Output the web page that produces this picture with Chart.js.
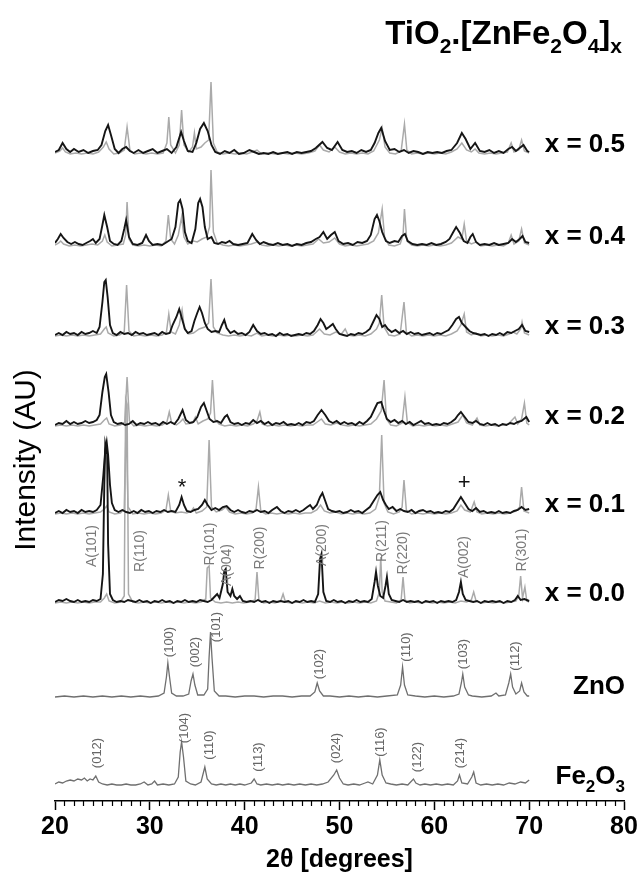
<!DOCTYPE html>
<html>
<head>
<meta charset="utf-8">
<script src="https://cdn.jsdelivr.net/npm/chart.js@4.4.1/dist/chart.umd.min.js"></script>
<style>
  html, body { margin: 0; padding: 0; background: #fff; }
</style>
</head>
<body>
<canvas id="xrdChart" width="641" height="875"></canvas>
<script>
// sample names (top to bottom) and vertical offsets of each pattern (AU)
const sampleNames = ['x = 0.5', 'x = 0.4', 'x = 0.3', 'x = 0.2', 'x = 0.1', 'x = 0.0'];
const offsets = [646, 554, 464, 374, 286, 197, 104, 14];

// TiO2.[ZnFe2O4]x patterns, [2theta, intensity]
const b05 = [[20,3],[20.4,5],[20.8,12],[21.2,6],[21.6,3],[22,6],[22.5,3],[23,5],[23.5,2],[24,4],[24.5,5],[24.9,10],[25.3,24],[25.6,30],[25.9,20],[26.3,6],[26.7,2],[27.1,6],[27.5,8],[27.9,4],[28.3,2],[28.8,5],[29.3,2],[29.8,4],[30.3,6],[30.8,2],[31.3,4],[31.8,6],[32.3,2],[32.8,8],[33.3,23],[33.6,14],[34,4],[34.5,3],[34.9,12],[35.3,26],[35.7,32],[36.1,24],[36.5,10],[36.9,3],[37.4,1],[37.9,4],[38.4,2],[38.9,5],[39.4,1],[39.9,2],[40.5,5],[41,3],[41.5,1],[42,2],[42.5,1],[43,3],[43.5,1],[44,2],[44.5,3],[45,1],[45.5,3],[46,2],[46.5,3],[47,4],[47.5,7],[48.2,13],[48.7,7],[49.2,5],[49.8,13],[50.3,5],[50.8,3],[51.3,4],[51.8,2],[52.3,5],[52.8,3],[53.3,5],[53.7,12],[54.1,22],[54.4,27],[54.8,14],[55.3,5],[55.8,6],[56.3,3],[56.8,5],[57.3,2],[57.8,4],[58.3,3],[58.8,1],[59.3,3],[59.8,2],[60.3,3],[60.8,2],[61.3,4],[61.8,5],[62.4,12],[62.9,22],[63.3,16],[63.8,6],[64.3,12],[64.8,4],[65.3,3],[65.8,5],[66.3,2],[66.8,4],[67.3,2],[67.8,6],[68.2,8],[68.6,4],[69,7],[69.4,10],[69.8,4],[70,3]];
const g05 = [[20,2],[20.5,4],[20.8,7],[21.1,3],[21.6,1],[22.2,2],[22.8,1],[23.4,2],[24,1],[24.6,3],[25.1,8],[25.4,13],[25.7,6],[26.2,1],[26.8,2],[27.3,5],[27.6,28],[27.9,5],[28.4,1],[29,2],[29.6,1],[30.2,2],[30.8,1],[31.4,2],[31.8,12],[32,38],[32.2,10],[32.7,2],[33.1,10],[33.35,45],[33.6,10],[34.1,3],[34.5,8],[34.7,22],[34.9,6],[35.4,8],[35.8,12],[36.2,15],[36.45,73],[36.7,12],[37.1,3],[37.7,1],[38.3,2],[39,1],[39.6,2],[40.2,1],[40.8,3],[41.3,5],[41.8,1],[42.5,2],[43.2,1],[43.9,2],[44.6,1],[45.3,2],[46,1],[46.7,2],[47.4,4],[47.9,10],[48.3,5],[48.9,3],[49.5,8],[50,3],[50.6,1],[51.2,2],[51.8,1],[52.4,2],[53,1],[53.6,4],[54.2,15],[54.5,27],[54.8,8],[55.3,2],[55.9,1],[56.5,4],[56.85,31],[57.1,5],[57.6,1],[58.2,2],[58.8,1],[59.4,2],[60,1],[60.6,2],[61.2,1],[61.8,3],[62.4,6],[62.9,12],[63.4,5],[63.9,3],[64.3,6],[64.7,2],[65.3,1],[65.9,2],[66.5,1],[67.1,2],[67.7,3],[68.1,12],[68.4,3],[68.9,5],[69.2,15],[69.5,4],[70,2]];
const b04 = [[20,4],[20.3,8],[20.6,13],[20.9,9],[21.3,5],[21.7,3],[22.1,5],[22.5,3],[22.9,2],[23.3,4],[23.7,6],[24,8],[24.3,4],[24.7,8],[25,22],[25.2,32],[25.5,20],[25.8,6],[26.2,3],[26.6,2],[27,6],[27.3,18],[27.5,27],[27.8,10],[28.2,3],[28.7,2],[29.2,4],[29.6,12],[29.9,6],[30.3,2],[30.8,3],[31.3,2],[31.8,5],[32.3,8],[32.7,20],[33,44],[33.2,47],[33.45,38],[33.7,15],[34,6],[34.4,4],[34.8,18],[35.1,44],[35.3,48],[35.55,40],[35.8,20],[36.1,8],[36.5,10],[36.8,4],[37.2,3],[37.6,5],[38,4],[38.4,6],[38.8,3],[39.3,2],[39.8,3],[40.3,4],[40.8,13],[41.2,7],[41.6,3],[42,5],[42.5,3],[43,2],[43.5,4],[44,2],[44.5,3],[45,1],[45.5,3],[46,2],[46.5,4],[47,5],[47.5,8],[47.9,10],[48.3,15],[48.7,8],[49.1,12],[49.5,15],[49.9,6],[50.4,3],[50.9,4],[51.4,2],[51.9,5],[52.4,4],[52.9,6],[53.3,12],[53.7,28],[53.95,32],[54.2,26],[54.5,15],[54.9,6],[55.3,4],[55.8,6],[56.2,5],[56.6,11],[56.9,13],[57.2,6],[57.7,3],[58.2,2],[58.7,3],[59.2,2],[59.7,4],[60.2,2],[60.7,3],[61.2,5],[61.6,8],[62,15],[62.3,20],[62.7,14],[63.1,6],[63.5,4],[63.8,10],[64.05,13],[64.4,5],[64.8,2],[65.3,3],[65.8,2],[66.3,4],[66.8,2],[67.3,3],[67.8,4],[68.2,8],[68.6,5],[69,8],[69.3,11],[69.6,5],[70,4]];
const g04 = [[20,2],[20.4,4],[20.6,6],[20.9,3],[21.5,1],[22.1,2],[22.7,1],[23.3,2],[23.9,3],[24.5,2],[25,6],[25.25,12],[25.5,5],[26,1],[26.6,2],[27.2,3],[27.45,12],[27.6,45],[27.8,8],[28.2,2],[28.8,1],[29.4,2],[30,1],[30.6,2],[31.2,1],[31.7,6],[31.95,32],[32.2,8],[32.6,3],[33,12],[33.35,30],[33.6,10],[34,3],[34.6,6],[35,5],[35.5,8],[36,10],[36.3,20],[36.45,77],[36.7,15],[37.1,4],[37.7,2],[38.3,1],[38.9,2],[39.5,1],[40.1,2],[40.7,3],[41.3,5],[41.8,2],[42.4,1],[43,2],[43.6,1],[44.2,2],[44.8,1],[45.4,2],[46,1],[46.6,2],[47.2,3],[47.8,8],[48.3,4],[48.9,5],[49.5,9],[50,3],[50.6,1],[51.2,2],[51.8,1],[52.4,2],[53,3],[53.6,6],[54.1,14],[54.5,38],[54.75,10],[55.2,2],[55.8,1],[56.4,3],[56.7,12],[56.85,38],[57.1,6],[57.6,2],[58.2,1],[58.8,2],[59.4,1],[60,2],[60.6,1],[61.2,2],[61.8,4],[62.5,10],[62.9,8],[63.15,23],[63.4,6],[63.9,3],[64.4,5],[64.9,1],[65.5,2],[66.1,1],[66.7,2],[67.3,1],[67.8,4],[68.1,12],[68.4,3],[68.9,6],[69.2,18],[69.5,4],[70,2]];
const b03 = [[20,2],[20.4,4],[20.8,2],[21.2,5],[21.6,3],[22,4],[22.4,2],[22.8,5],[23.2,3],[23.6,4],[24,6],[24.4,4],[24.7,10],[25,35],[25.2,55],[25.35,57],[25.55,40],[25.8,12],[26.1,4],[26.5,2],[26.9,5],[27.3,3],[27.7,4],[28.1,2],[28.5,5],[28.9,3],[29.3,4],[29.7,2],[30.1,3],[30.5,4],[30.9,2],[31.3,5],[31.7,3],[32.1,4],[32.4,12],[32.8,20],[33.1,28],[33.4,18],[33.7,8],[34,4],[34.4,6],[34.7,16],[35,24],[35.25,30],[35.5,24],[35.8,14],[36.1,8],[36.5,5],[36.9,6],[37.3,5],[37.6,12],[37.85,17],[38.1,9],[38.5,4],[38.9,6],[39.3,3],[39.7,4],[40.1,2],[40.5,5],[40.9,12],[41.3,6],[41.7,3],[42.1,4],[42.5,2],[42.9,3],[43.3,1],[43.7,4],[44.1,2],[44.5,3],[44.9,1],[45.3,2],[45.7,3],[46.1,2],[46.5,4],[46.9,3],[47.3,6],[47.7,12],[48,18],[48.3,14],[48.6,8],[48.9,10],[49.3,13],[49.6,8],[50,3],[50.4,2],[50.8,1],[51.2,3],[51.6,2],[52,4],[52.4,3],[52.8,5],[53.2,8],[53.6,16],[53.9,22],[54.2,18],[54.5,10],[54.8,12],[55.1,8],[55.5,5],[55.9,7],[56.3,4],[56.7,6],[57.1,3],[57.5,5],[57.9,3],[58.3,4],[58.7,2],[59.1,3],[59.5,4],[59.9,2],[60.3,4],[60.7,3],[61.1,5],[61.5,7],[61.9,12],[62.3,18],[62.6,20],[62.9,14],[63.3,10],[63.7,6],[64.1,4],[64.5,3],[64.9,2],[65.3,3],[65.7,1],[66.1,3],[66.5,2],[66.9,4],[67.3,2],[67.7,5],[68.1,4],[68.5,6],[68.9,8],[69.25,12],[69.6,6],[70,5]];
const g03 = [[20,1],[20.6,2],[21.2,1],[21.8,2],[22.4,1],[23,2],[23.6,1],[24.2,2],[24.8,3],[25.2,8],[25.4,10],[25.6,4],[26.2,1],[26.8,2],[27.3,5],[27.55,52],[27.8,6],[28.3,1],[28.9,2],[29.5,1],[30.1,2],[30.7,1],[31.3,2],[31.75,5],[32,23],[32.25,5],[32.7,3],[33.1,12],[33.4,27],[33.65,8],[34.1,3],[34.6,4],[35.2,8],[35.8,10],[36.2,14],[36.45,58],[36.7,10],[37.1,4],[37.7,2],[38.3,1],[38.9,2],[39.5,1],[40.1,2],[40.7,1],[41.3,4],[41.8,1],[42.4,2],[43,1],[43.6,2],[44.2,1],[44.8,2],[45.4,1],[46,2],[46.6,1],[47.2,2],[47.9,8],[48.4,3],[49,2],[49.6,5],[50.2,3],[50.6,8],[50.9,2],[51.5,1],[52.1,2],[52.7,1],[53.3,3],[53.9,8],[54.2,14],[54.45,42],[54.7,10],[55.2,2],[55.8,1],[56.4,3],[56.8,35],[57.05,5],[57.6,1],[58.2,2],[58.8,1],[59.4,2],[60,1],[60.6,2],[61.2,1],[61.8,3],[62.4,6],[62.8,12],[63.15,23],[63.4,5],[63.9,2],[64.4,4],[64.9,1],[65.5,2],[66.1,1],[66.7,2],[67.3,1],[67.9,3],[68.3,5],[68.7,3],[69.1,8],[69.25,15],[69.5,4],[70,2]];
const b02 = [[20,2],[20.4,4],[20.8,3],[21.2,6],[21.6,3],[22,5],[22.4,3],[22.8,4],[23.2,6],[23.6,4],[24,5],[24.4,7],[24.7,12],[25,35],[25.25,50],[25.4,53],[25.65,35],[25.9,12],[26.2,5],[26.6,3],[27,4],[27.4,2],[27.8,3],[28.2,6],[28.6,2],[29,4],[29.4,3],[29.8,5],[30.2,3],[30.6,4],[31,2],[31.4,5],[31.8,3],[32.2,5],[32.6,3],[33,8],[33.45,17],[33.8,7],[34.2,4],[34.6,5],[35,10],[35.4,20],[35.7,24],[36,16],[36.3,8],[36.7,5],[37.1,6],[37.5,4],[37.9,10],[38.15,12],[38.5,5],[38.9,3],[39.3,4],[39.7,2],[40.1,4],[40.5,3],[40.9,7],[41.3,4],[41.7,6],[42.1,3],[42.5,5],[42.9,2],[43.3,4],[43.7,3],[44.1,5],[44.5,2],[44.9,3],[45.3,2],[45.7,4],[46.1,2],[46.5,5],[46.9,4],[47.3,6],[47.7,12],[48.1,17],[48.5,12],[48.9,6],[49.3,4],[49.7,6],[50.1,3],[50.5,5],[50.9,3],[51.3,4],[51.7,2],[52.1,5],[52.5,3],[52.9,6],[53.3,10],[53.7,18],[54,24],[54.4,25],[54.7,16],[55,8],[55.4,5],[55.8,7],[56.2,4],[56.6,6],[57,3],[57.4,5],[57.8,2],[58.2,4],[58.6,6],[59,3],[59.4,4],[59.8,2],[60.2,3],[60.6,2],[61,4],[61.4,3],[61.8,5],[62.2,8],[62.5,12],[62.8,15],[63.2,10],[63.6,5],[64,4],[64.4,6],[64.8,3],[65.2,2],[65.6,4],[66,2],[66.4,3],[66.8,1],[67.2,3],[67.6,2],[68,4],[68.4,3],[68.8,5],[69.2,6],[69.7,10],[70,5]];
const g02 = [[20,1],[20.6,2],[21.2,1],[21.8,2],[22.4,1],[23,2],[23.6,1],[24.2,2],[24.8,3],[25.2,7],[25.45,9],[25.7,3],[26.3,1],[26.9,2],[27.35,5],[27.6,50],[27.85,6],[28.3,1],[28.9,2],[29.5,1],[30.1,2],[30.7,1],[31.3,2],[31.8,5],[32.05,15],[32.3,4],[32.8,2],[33.2,5],[33.5,8],[33.8,3],[34.5,4],[34.8,10],[35.1,3],[35.6,6],[36.1,8],[36.4,14],[36.6,47],[36.85,8],[37.3,3],[37.9,1],[38.5,2],[39.1,1],[39.7,2],[40.3,1],[40.9,3],[41.3,6],[41.6,15],[41.85,3],[42.4,1],[43,2],[43.6,1],[44.2,2],[44.8,1],[45.4,2],[46,1],[46.6,2],[47.2,2],[47.8,6],[48.1,8],[48.5,3],[49.1,2],[49.7,4],[50.3,2],[50.9,1],[51.5,2],[52.1,1],[52.7,2],[53.3,3],[53.9,8],[54.4,16],[54.7,47],[54.95,8],[55.4,2],[56,1],[56.6,4],[56.9,30],[57.15,5],[57.7,1],[58.3,2],[58.9,1],[59.5,2],[60.1,1],[60.7,2],[61.3,1],[61.9,3],[62.5,5],[63,12],[63.4,4],[64,2],[64.5,9],[64.8,2],[65.4,1],[66,2],[66.6,1],[67.2,2],[67.8,3],[68.5,10],[68.8,3],[69.2,8],[69.5,24],[69.75,4],[70,2]];
const b01 = [[20,2],[20.4,4],[20.8,2],[21.2,5],[21.6,3],[22,4],[22.4,2],[22.8,5],[23.2,3],[23.6,4],[24,3],[24.4,5],[24.8,10],[25.1,40],[25.3,65],[25.45,73],[25.6,60],[25.8,30],[26,12],[26.3,5],[26.7,3],[27.1,5],[27.5,3],[27.9,2],[28.3,4],[28.7,2],[29.1,5],[29.5,3],[29.9,4],[30.3,2],[30.7,4],[31.1,3],[31.5,5],[31.9,3],[32.3,4],[32.7,3],[33.1,10],[33.35,18],[33.6,10],[33.9,4],[34.3,3],[34.7,5],[35.1,6],[35.5,10],[35.8,15],[36.1,10],[36.5,5],[36.9,7],[37.3,5],[37.7,8],[38.1,9],[38.5,5],[38.9,3],[39.3,5],[39.7,3],[40.1,2],[40.5,4],[40.9,3],[41.3,5],[41.7,3],[42.1,4],[42.5,2],[42.9,5],[43.4,8],[43.8,4],[44.2,2],[44.6,4],[45,3],[45.4,5],[45.8,3],[46.2,5],[46.6,8],[46.9,10],[47.2,6],[47.6,10],[47.95,18],[48.2,22],[48.5,14],[48.8,6],[49.2,4],[49.6,3],[50,4],[50.4,2],[50.8,3],[51.2,5],[51.6,3],[52,4],[52.4,2],[52.8,5],[53.2,8],[53.6,14],[54,20],[54.3,23],[54.6,15],[54.9,10],[55.2,6],[55.6,8],[56,4],[56.4,6],[56.8,4],[57.2,3],[57.6,5],[58,2],[58.4,4],[58.8,5],[59.2,3],[59.6,4],[60,2],[60.4,3],[60.8,2],[61.2,4],[61.6,3],[62,6],[62.4,12],[62.8,18],[63.2,12],[63.6,6],[64,4],[64.4,7],[64.8,3],[65.2,4],[65.6,2],[66,3],[66.4,2],[66.8,4],[67.2,2],[67.6,3],[68,2],[68.4,4],[68.8,5],[69.2,8],[69.6,5],[70,6]];
const g01 = [[20,1],[20.6,2],[21.2,1],[21.8,2],[22.4,1],[23,2],[23.6,1],[24.2,2],[24.8,3],[25.2,6],[25.45,9],[25.7,3],[26.3,1],[26.9,2],[27.3,6],[27.5,92],[27.7,8],[28.2,1],[28.8,2],[29.4,1],[30,2],[30.6,1],[31.2,2],[31.7,5],[31.95,20],[32.2,4],[32.7,2],[33.3,3],[33.9,2],[34.4,4],[34.6,7],[34.9,2],[35.5,4],[36,8],[36.25,75],[36.5,8],[37,3],[37.6,5],[38,8],[38.4,3],[39,1],[39.6,2],[40.2,1],[40.8,2],[41.2,6],[41.45,28],[41.7,4],[42.2,1],[42.8,2],[43.4,1],[44,2],[44.6,1],[45.2,2],[45.8,1],[46.4,2],[47,2],[47.6,5],[48,10],[48.4,4],[49,2],[49.6,3],[50.2,1],[50.8,2],[51.4,1],[52,2],[52.6,1],[53.2,2],[53.8,6],[54.2,18],[54.45,80],[54.7,12],[55.1,3],[55.7,1],[56.3,3],[56.6,8],[56.8,35],[57.05,5],[57.6,1],[58.2,2],[58.8,1],[59.4,2],[60,1],[60.6,2],[61.2,1],[61.8,2],[62.4,4],[62.8,10],[63.2,5],[63.8,3],[64.2,13],[64.5,3],[65,1],[65.6,2],[66.2,1],[66.8,2],[67.4,1],[68,2],[68.6,4],[69,8],[69.2,28],[69.45,4],[70,2]];
const b00 = [[20,2],[20.4,4],[20.8,3],[21.2,5],[21.6,3],[22,2],[22.4,4],[22.8,2],[23.2,3],[23.6,2],[24,4],[24.4,3],[24.8,5],[25.05,30],[25.2,120],[25.3,160],[25.4,155],[25.5,150],[25.6,60],[25.8,10],[26.1,4],[26.5,2],[26.9,3],[27.3,2],[27.7,4],[28.1,3],[28.5,2],[28.9,4],[29.3,2],[29.7,3],[30.1,1],[30.5,3],[30.9,2],[31.3,4],[31.7,2],[32.1,3],[32.5,1],[32.9,3],[33.3,2],[33.7,4],[34.1,2],[34.5,3],[34.9,2],[35.3,4],[35.7,3],[36.1,2],[36.5,4],[36.9,8],[37.1,10],[37.35,6],[37.7,20],[37.85,33],[38,35],[38.2,12],[38.5,8],[38.7,15],[38.9,8],[39.2,5],[39.5,8],[39.8,3],[40.2,2],[40.6,3],[41,2],[41.4,4],[41.8,2],[42.2,3],[42.6,1],[43,3],[43.4,2],[43.8,3],[44.2,2],[44.6,3],[45,1],[45.4,3],[45.8,2],[46.2,4],[46.6,2],[47,3],[47.4,2],[47.75,10],[47.95,45],[48.1,50],[48.3,12],[48.6,3],[49,2],[49.4,4],[49.8,2],[50.2,3],[50.6,1],[51,3],[51.4,2],[51.8,4],[52.2,2],[52.6,3],[53,2],[53.4,5],[53.7,22],[53.85,32],[54.05,18],[54.3,8],[54.6,6],[54.85,18],[55,27],[55.2,10],[55.5,4],[55.9,3],[56.3,2],[56.7,4],[57.1,2],[57.5,3],[57.9,2],[58.3,3],[58.7,1],[59.1,3],[59.5,2],[59.9,3],[60.3,1],[60.7,3],[61.1,2],[61.5,3],[61.9,2],[62.3,4],[62.6,12],[62.8,22],[63,10],[63.3,4],[63.7,3],[64.1,2],[64.5,3],[64.9,1],[65.3,3],[65.7,2],[66.1,3],[66.5,2],[66.9,3],[67.3,1],[67.7,3],[68.1,2],[68.5,4],[68.8,8],[69.1,4],[69.5,5],[70,3]];
const g00 = [[20,1],[20.6,2],[21.2,1],[21.8,2],[22.4,1],[23,2],[23.6,1],[24.2,2],[24.8,2],[25.2,6],[25.45,10],[25.7,3],[26.3,1],[26.9,2],[27.3,8],[27.45,205],[27.6,200],[27.75,10],[28.2,2],[28.8,1],[29.4,2],[30,1],[30.6,2],[31.2,1],[31.8,2],[32.4,1],[33,2],[33.6,1],[34.2,2],[34.8,1],[35.4,2],[35.9,5],[36.05,36],[36.25,38],[36.4,6],[36.9,2],[37.5,1],[38.1,2],[38.7,1],[39.3,2],[39.9,1],[40.5,2],[41.1,4],[41.3,32],[41.5,4],[42,1],[42.6,2],[43.2,1],[43.8,3],[44.05,10],[44.3,2],[44.9,1],[45.5,2],[46.1,1],[46.7,2],[47.3,1],[47.9,3],[48.5,1],[49.1,2],[49.7,1],[50.3,2],[50.9,1],[51.5,2],[52.1,1],[52.7,2],[53.3,1],[53.9,3],[54.2,12],[54.35,47],[54.5,12],[54.8,3],[55.4,2],[56,1],[56.5,4],[56.7,27],[56.9,4],[57.4,1],[58,2],[58.6,1],[59.2,2],[59.8,1],[60.4,2],[61,1],[61.6,2],[62.2,1],[62.8,3],[63.4,2],[63.9,4],[64.15,12],[64.4,3],[65,1],[65.6,2],[66.2,1],[66.8,2],[67.4,1],[68,2],[68.6,3],[68.9,8],[69.1,28],[69.3,6],[69.55,17],[69.75,3],[70,2]];

// reference patterns
const zno = [[20,0],[21,1],[22,0],[23,1],[24,0],[25,1],[26,0],[27,1],[28,0],[29,1],[30,0],[30.9,1],[31.5,4],[31.75,20],[31.9,34],[32.05,22],[32.3,4],[32.8,1],[33.5,1],[34.1,3],[34.35,16],[34.55,23],[34.75,12],[35.05,2],[35.7,2],[36.1,8],[36.25,40],[36.4,65],[36.55,40],[36.8,6],[37.3,1],[38,1],[39,0],[40,1],[41,1],[42,0],[43,1],[44,1],[45,0],[46,1],[46.9,1],[47.4,5],[47.65,14],[47.9,6],[48.3,1],[49,1],[50,0],[51,1],[52,0],[53,1],[54,0],[55,1],[56.1,2],[56.45,12],[56.65,30],[56.85,12],[57.2,2],[58,1],[59,0],[60,1],[61,0],[62,1],[62.6,3],[62.85,14],[63,23],[63.2,10],[63.6,2],[64,1],[65,0],[66,1],[66.5,4],[66.8,1],[67.5,2],[67.85,14],[68.05,23],[68.25,10],[68.6,3],[69,6],[69.2,14],[69.45,5],[69.8,1],[70,1]];
const fe2o3 = [[20,3],[20.4,5],[20.8,4],[21.2,6],[21.6,7],[22,6],[22.4,8],[22.8,7],[23.1,9],[23.4,6],[23.7,8],[24,7],[24.3,11],[24.6,5],[25,3],[25.5,2],[26,3],[26.5,2],[27,2],[27.5,3],[28,2],[28.5,2],[29,3],[29.4,5],[29.8,2],[30.2,3],[30.5,6],[30.8,2],[31.4,3],[32,2],[32.6,3],[33,10],[33.2,35],[33.35,45],[33.55,30],[33.8,6],[34.3,3],[34.8,2],[35.4,5],[35.8,20],[36.05,8],[36.5,3],[37,2],[37.5,3],[38,2],[38.5,3],[39,2],[39.5,3],[40,2],[40.7,4],[41,8],[41.3,3],[41.7,2],[42.3,3],[42.9,2],[43.5,3],[44,2],[44.6,3],[45.2,2],[45.8,3],[46.4,2],[47,3],[47.6,2],[48.2,3],[48.8,5],[49.4,12],[49.7,17],[50,9],[50.4,3],[50.9,2],[51.5,3],[52.1,2],[52.7,4],[53,5],[53.5,3],[54,12],[54.25,27],[54.5,12],[54.9,4],[55.4,3],[56,2],[56.6,3],[57.2,2],[57.8,8],[58.05,4],[58.5,2],[59,3],[59.6,2],[60.2,3],[60.8,2],[61.4,3],[62,2],[62.45,6],[62.65,12],[62.9,4],[63.5,3],[63.95,10],[64.15,15],[64.4,4],[64.9,2],[65.5,3],[66.1,2],[66.7,3],[67.3,2],[67.9,4],[68.5,3],[69.1,5],[69.6,4],[70,7]];

const blackSeries = [b05, b04, b03, b02, b01, b00];
const graySeries = [g05, g04, g03, g02, g01, g00];

// peak indexing
const phaseLabels = ['A(101)', 'R(110)', 'R(101)', 'A(004)', 'R(200)', 'A(200)', 'R(211)', 'R(220)', 'A(002)', 'R(301)'];
const phasePos = [23.95, 29.0, 36.35, 38.15, 41.6, 48.2, 54.5, 56.7, 63.1, 69.3];
const phaseY = [255, 250, 257, 236, 253, 256, 260, 248, 244, 251];
const znoLabels = ['(100)', '(002)', '(101)', '(102)', '(110)', '(103)', '(112)'];
const znoPos = [32.1, 34.8, 37.05, 47.85, 57.1, 63.1, 68.5];
const znoY = [159, 149, 174, 137, 154, 147, 145];
const feLabels = ['(012)', '(104)', '(110)', '(113)', '(024)', '(116)', '(122)', '(214)'];
const fePos = [24.5, 33.6, 36.25, 41.4, 49.65, 54.3, 58.2, 62.7];
const feY = [48, 73, 56, 44, 53, 59, 44, 48];
// impurity marks in x = 0.1
const marks = [['*', 33.4, 313], ['+', 63.15, 318]];

const FONT = '"Liberation Sans", Arial, Helvetica, sans-serif';
Chart.defaults.font.family = FONT;

function shift(points, off) {
    return points.map(p => ({ x: p[0], y: p[1] + off }));
}

const datasets = [];
blackSeries.forEach((s, i) => {
    datasets.push({ label: sampleNames[i], data: shift(s, offsets[i]), borderColor: '#151515', borderWidth: 1.9, order: 0 });
});
graySeries.forEach((s, i) => {
    datasets.push({ label: sampleNames[i] + ' ref', data: shift(s, offsets[i]), borderColor: '#aaaaaa', borderWidth: 1.5, order: 1 });
});
datasets.push({ label: 'ZnO', data: shift(zno, offsets[6]), borderColor: '#6f6f6f', borderWidth: 1.3, order: 1 });
datasets.push({ label: 'Fe2O3', data: shift(fe2o3, offsets[7]), borderColor: '#6f6f6f', borderWidth: 1.3, order: 1 });

// text with subscripts, right aligned
function drawRich(ctx, parts, xRight, baseline, size, subSize, subDrop) {
    const main = 'bold ' + size + 'px ' + FONT;
    const sub = 'bold ' + subSize + 'px ' + FONT;
    let w = 0;
    parts.forEach(p => { ctx.font = p[1] ? sub : main; w += ctx.measureText(p[0]).width; });
    let x = xRight - w;
    ctx.textAlign = 'left';
    ctx.textBaseline = 'alphabetic';
    parts.forEach(p => {
        ctx.font = p[1] ? sub : main;
        ctx.fillText(p[0], x, baseline + (p[1] ? subDrop : 0));
        x += ctx.measureText(p[0]).width;
    });
}

const annotate = {
    id: 'annotate',
    afterDraw(chart) {
        const ctx = chart.ctx;
        const xs = chart.scales.x, ys = chart.scales.y, area = chart.chartArea;
        ctx.save();

        // minor ticks every degree
        ctx.strokeStyle = '#000';
        ctx.lineWidth = 1.2;
        for (let t = 21; t < 80; t++) {
            if (t % 10 === 0) continue;
            const px = Math.round(xs.getPixelForValue(t)) + 0.5;
            ctx.beginPath();
            ctx.moveTo(px, area.bottom);
            ctx.lineTo(px, area.bottom + 5);
            ctx.stroke();
        }

        // rotated peak labels
        function vlabel(text, t, v, color, size) {
            ctx.save();
            ctx.translate(xs.getPixelForValue(t), ys.getPixelForValue(v));
            ctx.rotate(-Math.PI / 2);
            ctx.font = size + 'px ' + FONT;
            ctx.fillStyle = color;
            ctx.textAlign = 'center';
            ctx.textBaseline = 'middle';
            ctx.fillText(text, 0, 0);
            ctx.restore();
        }
        phaseLabels.forEach((l, i) => vlabel(l, phasePos[i], phaseY[i], '#7a7a7a', 14));
        znoLabels.forEach((l, i) => vlabel(l, znoPos[i], znoY[i], '#666', 13));
        feLabels.forEach((l, i) => vlabel(l, fePos[i], feY[i], '#666', 13));

        ctx.fillStyle = '#111';
        ctx.font = '22px ' + FONT;
        ctx.textAlign = 'center';
        ctx.textBaseline = 'middle';
        marks.forEach(m => ctx.fillText(m[0], xs.getPixelForValue(m[1]), ys.getPixelForValue(m[2])));

        // sample names on the right
        ctx.fillStyle = '#000';
        const xr = area.right + 1;
        sampleNames.forEach((n, i) => {
            drawRich(ctx, [[n, 0]], xr, ys.getPixelForValue(offsets[i] + 12) + 9, 26, 17, 8);
        });
        drawRich(ctx, [['ZnO', 0]], xr, ys.getPixelForValue(offsets[6] + 12) + 9, 26, 17, 8);
        drawRich(ctx, [['Fe', 0], ['2', 1], ['O', 0], ['3', 1]], xr, ys.getPixelForValue(offsets[7] + 12) + 9, 26, 17, 8);

        // title
        drawRich(ctx, [['TiO', 0], ['2', 1], ['.[ZnFe', 0], ['2', 1], ['O', 0], ['4', 1], [']', 0], ['x', 1]], 622, 44, 33, 21, 9);

        // y axis title
        ctx.save();
        ctx.translate(35, 460);
        ctx.rotate(-Math.PI / 2);
        ctx.font = '30px ' + FONT;
        ctx.fillStyle = '#000';
        ctx.textAlign = 'center';
        ctx.textBaseline = 'alphabetic';
        ctx.fillText('Intensity (AU)', 0, 0);
        ctx.restore();

        ctx.restore();
    }
};

new Chart(document.getElementById('xrdChart'), {
    type: 'line',
    data: { datasets: datasets },
    options: {
        responsive: false,
        animation: false,
        devicePixelRatio: 1,
        layout: { padding: { top: 61, left: 55, right: 17, bottom: 0 } },
        elements: { point: { radius: 0 }, line: { tension: 0, fill: false } },
        plugins: { legend: { display: false }, tooltip: { enabled: false } },
        scales: {
            x: {
                type: 'linear',
                min: 20,
                max: 80,
                ticks: { stepSize: 10, color: '#000', padding: 2, maxRotation: 0, font: { size: 25, weight: 'bold' } },
                grid: { drawOnChartArea: false, drawTicks: true, tickLength: 9, tickColor: '#000', tickWidth: 1.5 },
                border: { display: true, color: '#000', width: 1.5 },
                title: { display: true, text: '2θ [degrees]', color: '#000', font: { size: 25, weight: 'bold' }, padding: { top: 0, bottom: 0 } },
                afterFit: s => { s.height = 74; }
            },
            y: { display: false, min: 0, max: 740 }
        }
    },
    plugins: [annotate]
});
</script>
</body>
</html>
